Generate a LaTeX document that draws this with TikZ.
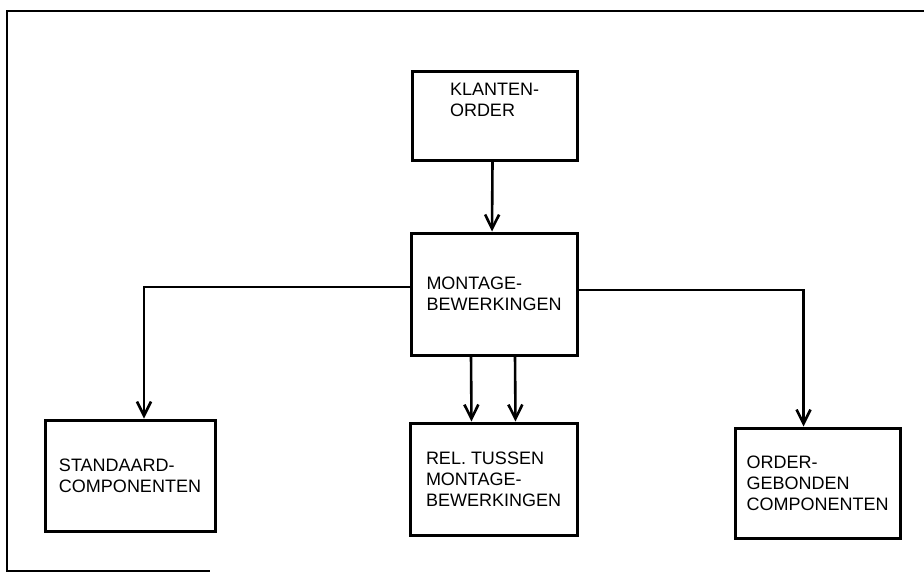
\documentclass[tikz,border=0pt]{standalone}
\usepackage{fontspec}
\setmainfont{Liberation Sans}
\usetikzlibrary{arrows.meta, positioning}

\begin{document}
\begin{tikzpicture}[x=0.5pt, y=-0.5pt,
    blok/.style={draw, line width=1.5pt, align=left, inner sep=0pt,
        font=\fontsize{9}{10.5}\selectfont},
    pijl/.style={-{Straight Barb[length=7pt, width=7pt, line width=1.3pt]}, line width=1.3pt}]
    \useasboundingbox (0,0) rectangle (924,573);
    % Frame round the figure
    \draw[line width=1.3pt] (924,11) -- (7,11) -- (7,571) -- (210,571);
    % Boxes
    \node[blok, minimum width=82.5pt, minimum height=44.5pt, text depth=16pt] (klantorder) at (494.5,115.5) {KLANTEN-\\ORDER};
    \node[blok, minimum width=83pt, minimum height=61pt] (montage) at (494,294) {MONTAGE-\\BEWERKINGEN};
    \node[blok, minimum width=85pt, minimum height=55.5pt] (standaard) at (130,475.5) {STANDAARD-\\COMPONENTEN};
    \node[blok, minimum width=83.5pt, minimum height=56pt] (relaties) at (493.5,479) {REL. TUSSEN\\MONTAGE-\\BEWERKINGEN};
    \node[blok, minimum width=82.5pt, minimum height=55pt] (ordergeb) at (817.5,483) {ORDER-\\GEBONDEN\\COMPONENTEN};
    % Connectors
    \draw[pijl] ([xshift=-1pt]klantorder.south) -- ([xshift=-1pt]montage.north);
    \draw[pijl] ([yshift=3.5pt]montage.west) -| ([xshift=7pt]standaard.north);
    \draw[pijl] ([yshift=2pt]montage.east) -| ([xshift=-7pt]ordergeb.north);
    \draw[pijl] ([xshift=-11.5pt]montage.south) -- ([xshift=-11pt]relaties.north);
    \draw[pijl] ([xshift=10.5pt]montage.south) -- ([xshift=11pt]relaties.north);
\end{tikzpicture}
\end{document}
